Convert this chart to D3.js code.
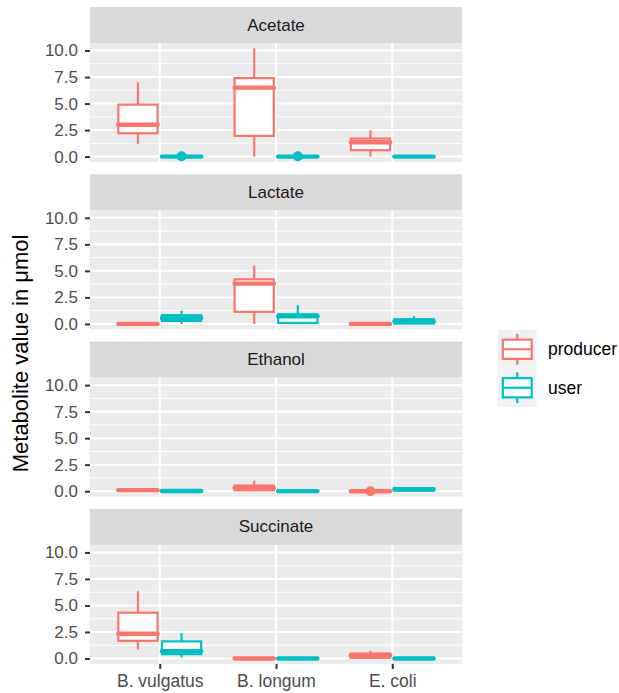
<!DOCTYPE html>
<html>
<head>
<meta charset="utf-8">
<script src="https://cdn.jsdelivr.net/npm/d3@7"></script>
<style>
  html, body { margin: 0; padding: 0; background: #ffffff; }
  svg { display: block; font-family: "Liberation Sans", Arial, Helvetica, sans-serif; }
</style>
</head>
<body>
<svg id="chart" width="619" height="693"></svg>
<script>
// Categories
const species = ["B. vulgatus", "B. longum", "E. coli"];
const roles = ["producer", "user"];
const metabolites = ["Acetate", "Lactate", "Ethanol", "Succinate"];
const roleColors = ["#F8766D", "#00BFC4"];

// Five-number summaries per species: [lower whisker, Q1, median, Q3, upper whisker]
const acetateProducer   = [[1.2, 2.2, 3.0, 4.9, 7.0], [0.0, 1.95, 6.5, 7.4, 10.2], [0.0, 0.6, 1.35, 1.7, 2.5]];
const acetateUser       = [[0, 0, 0, 0, 0], [0, 0, 0, 0, 0], [0, 0, 0, 0, 0]];
const lactateProducer   = [[0, 0, 0, 0, 0], [0.0, 1.13, 3.8, 4.2, 5.5], [0, 0, 0, 0, 0]];
const lactateUser       = [[0.0, 0.28, 0.55, 0.82, 1.23], [0.0, 0.09, 0.72, 0.91, 1.76], [0.0, 0.03, 0.25, 0.44, 0.72]];
const ethanolProducer   = [[0.05, 0.08, 0.1, 0.12, 0.15], [0.0, 0.09, 0.3, 0.53, 1.0], [0, 0, 0, 0, 0]];
const ethanolUser       = [[0.0, 0.0, 0.02, 0.03, 0.05], [0.0, 0.0, 0.01, 0.02, 0.03], [0.0, 0.05, 0.18, 0.28, 0.38]];
const succinateProducer = [[0.85, 1.67, 2.33, 4.32, 6.34], [0, 0, 0, 0, 0], [0.02, 0.06, 0.3, 0.47, 0.73]];
const succinateUser     = [[0.1, 0.41, 0.69, 1.61, 2.4], [0, 0, 0, 0, 0], [0, 0, 0, 0, 0]];

// Outlying observations: [metabolite, species, role, value]
const outlierPoints = [
  ["Acetate", "B. vulgatus", "user", 0.03],
  ["Acetate", "B. longum", "user", 0.03],
  ["Ethanol", "E. coli", "producer", 0.0]
];

// Axis ticks
const yTicks = [0, 2.5, 5, 7.5, 10];
const yTickLabels = ["0.0", "2.5", "5.0", "7.5", "10.0"];
const yMinorTicks = [1.25, 3.75, 6.25, 8.75];
const yTitle = "Metabolite value in \u03BCmol";

// Assemble the long table used for drawing
const summaries = {
  Acetate:   [acetateProducer, acetateUser],
  Lactate:   [lactateProducer, lactateUser],
  Ethanol:   [ethanolProducer, ethanolUser],
  Succinate: [succinateProducer, succinateUser]
};
const boxes = [];
metabolites.forEach(m => {
  roles.forEach((r, ri) => {
    species.forEach((s, si) => {
      const v = summaries[m][ri][si];
      boxes.push({ metabolite: m, role: r, species: s, lo: v[0], q1: v[1], med: v[2], q3: v[3], hi: v[4] });
    });
  });
});

// Layout
const svg = d3.select("#chart");
const plotLeft = 90, plotRight = 462;
const firstStripTop = 7, panelStep = 167.3, stripH = 36, panelH = 119;
const boxLine = 2.2, medianLine = 4.4;

const x = d3.scalePoint().domain(species).range([plotLeft, plotRight]).padding(0.6);
const step = x.step();
const dodge = d3.scaleOrdinal().domain(roles).range([-0.1875 * step, 0.1875 * step]);
const boxW = 0.3375 * step;
const color = d3.scaleOrdinal().domain(roles).range(roleColors);

// Shared y range with 5% expansion
const allVals = boxes.flatMap(b => [b.lo, b.hi]).concat(outlierPoints.map(o => o[3]));
const yLo = d3.min(allVals), yHi = d3.max(allVals);
const pad = (yHi - yLo) * 0.05;

metabolites.forEach((m, i) => {
  const stripTop = firstStripTop + i * panelStep;
  const top = stripTop + stripH;
  const bottom = top + panelH;
  const y = d3.scaleLinear().domain([yLo - pad, yHi + pad]).range([bottom, top]);

  const g = svg.append("g");

  // Strip
  g.append("rect").attr("x", plotLeft).attr("y", stripTop)
    .attr("width", plotRight - plotLeft).attr("height", stripH).attr("fill", "#D9D9D9");
  g.append("text").attr("x", (plotLeft + plotRight) / 2).attr("y", stripTop + stripH / 2)
    .attr("text-anchor", "middle").attr("dominant-baseline", "central")
    .attr("font-size", 17).attr("fill", "#1A1A1A").text(m);

  // Panel background and grid
  g.append("rect").attr("x", plotLeft).attr("y", top)
    .attr("width", plotRight - plotLeft).attr("height", panelH).attr("fill", "#EBEBEB");
  g.selectAll(".minor").data(yMinorTicks).join("line")
    .attr("x1", plotLeft).attr("x2", plotRight)
    .attr("y1", d => y(d)).attr("y2", d => y(d))
    .attr("stroke", "#ffffff").attr("stroke-width", 1);
  g.selectAll(".major").data(yTicks).join("line")
    .attr("x1", plotLeft).attr("x2", plotRight)
    .attr("y1", d => y(d)).attr("y2", d => y(d))
    .attr("stroke", "#ffffff").attr("stroke-width", 2);
  g.selectAll(".vgrid").data(species).join("line")
    .attr("x1", d => x(d)).attr("x2", d => x(d))
    .attr("y1", top).attr("y2", bottom)
    .attr("stroke", "#ffffff").attr("stroke-width", 2);

  // Y axis
  const yAxis = d3.axisLeft(y).tickValues(yTicks)
    .tickFormat((d, k) => yTickLabels[k]).tickSize(5).tickPadding(7);
  const ya = g.append("g").attr("transform", `translate(${plotLeft},0)`).call(yAxis);
  ya.select(".domain").remove();
  ya.selectAll(".tick line").attr("stroke", "#333333").attr("stroke-width", 2);
  ya.selectAll(".tick text").attr("fill", "#4D4D4D").attr("font-size", 17)
    .attr("font-family", "'Liberation Sans', Arial, sans-serif");

  // Boxplots
  const pb = boxes.filter(b => b.metabolite === m);
  const bg = g.selectAll(".box").data(pb).join("g");
  bg.append("line")
    .attr("x1", d => x(d.species) + dodge(d.role)).attr("x2", d => x(d.species) + dodge(d.role))
    .attr("y1", d => y(d.hi)).attr("y2", d => y(d.q3))
    .attr("stroke", d => color(d.role)).attr("stroke-width", boxLine);
  bg.append("line")
    .attr("x1", d => x(d.species) + dodge(d.role)).attr("x2", d => x(d.species) + dodge(d.role))
    .attr("y1", d => y(d.q1)).attr("y2", d => y(d.lo))
    .attr("stroke", d => color(d.role)).attr("stroke-width", boxLine);
  bg.append("rect")
    .attr("x", d => x(d.species) + dodge(d.role) - boxW / 2)
    .attr("y", d => y(d.q3))
    .attr("width", boxW)
    .attr("height", d => y(d.q1) - y(d.q3))
    .attr("fill", "#ffffff")
    .attr("stroke", d => color(d.role)).attr("stroke-width", boxLine);
  bg.append("line")
    .attr("x1", d => x(d.species) + dodge(d.role) - boxW / 2)
    .attr("x2", d => x(d.species) + dodge(d.role) + boxW / 2)
    .attr("y1", d => y(d.med)).attr("y2", d => y(d.med))
    .attr("stroke", d => color(d.role)).attr("stroke-width", medianLine)
    .attr("stroke-linecap", "round");

  // Outliers
  g.selectAll(".outlier").data(outlierPoints.filter(o => o[0] === m)).join("circle")
    .attr("cx", d => x(d[1]) + dodge(d[2]))
    .attr("cy", d => y(d[3]))
    .attr("r", 5)
    .attr("fill", d => color(d[2]));

  // X axis on the bottom panel only
  if (i === metabolites.length - 1) {
    const xa = g.append("g").attr("transform", `translate(0,${bottom})`)
      .call(d3.axisBottom(x).tickSize(5).tickPadding(6));
    xa.select(".domain").remove();
    xa.selectAll(".tick line").attr("stroke", "#333333").attr("stroke-width", 2);
    xa.selectAll(".tick text").attr("fill", "#4D4D4D").attr("font-size", 17.5)
      .attr("font-family", "'Liberation Sans', Arial, sans-serif");
  }
});

// Y axis title
const panelsTop = firstStripTop + stripH;
const panelsBottom = firstStripTop + 3 * panelStep + stripH + panelH;
svg.append("text")
  .attr("transform", `translate(28,${(panelsTop + panelsBottom) / 2}) rotate(-90)`)
  .attr("text-anchor", "middle")
  .attr("font-size", 22).attr("fill", "#000000")
  .text(yTitle);

// Legend
const keySize = 38.5, legX = 498, legY = 330;
const leg = svg.append("g").attr("transform", `translate(${legX},${legY})`);
roles.forEach((r, k) => {
  const ky = k * keySize;
  const c = color(r);
  leg.append("rect").attr("x", 0).attr("y", ky).attr("width", keySize).attr("height", keySize)
    .attr("fill", "#F2F2F2");
  leg.append("line").attr("x1", keySize / 2).attr("x2", keySize / 2)
    .attr("y1", ky + keySize * 0.1).attr("y2", ky + keySize * 0.25)
    .attr("stroke", c).attr("stroke-width", boxLine);
  leg.append("line").attr("x1", keySize / 2).attr("x2", keySize / 2)
    .attr("y1", ky + keySize * 0.75).attr("y2", ky + keySize * 0.9)
    .attr("stroke", c).attr("stroke-width", boxLine);
  leg.append("rect").attr("x", keySize * 0.125).attr("y", ky + keySize * 0.25)
    .attr("width", keySize * 0.75).attr("height", keySize * 0.5)
    .attr("fill", "#ffffff").attr("stroke", c).attr("stroke-width", boxLine);
  leg.append("line").attr("x1", keySize * 0.125).attr("x2", keySize * 0.875)
    .attr("y1", ky + keySize / 2).attr("y2", ky + keySize / 2)
    .attr("stroke", c).attr("stroke-width", boxLine);
  leg.append("text").attr("x", 50).attr("y", ky + keySize / 2)
    .attr("dominant-baseline", "central").attr("font-size", 17.5).attr("fill", "#000000")
    .text(r);
});
</script>
</body>
</html>
